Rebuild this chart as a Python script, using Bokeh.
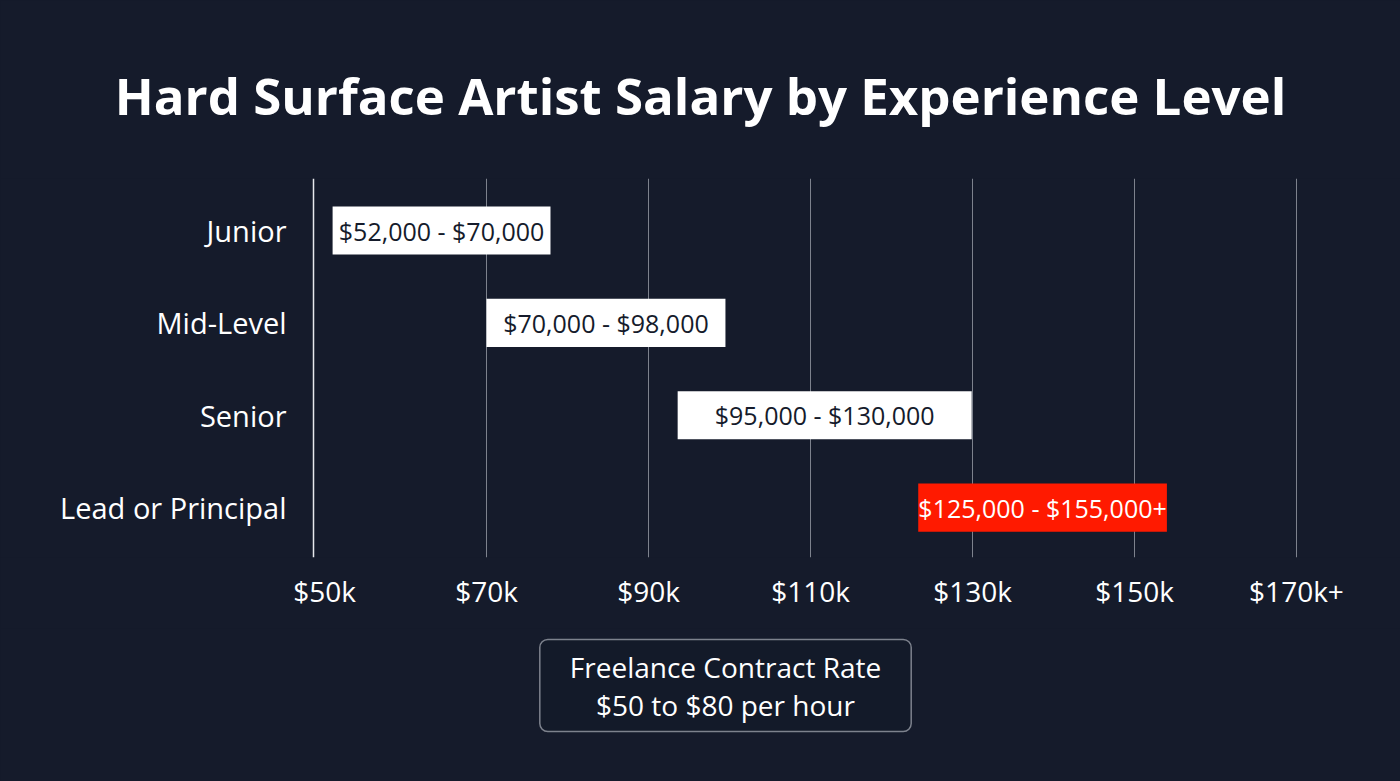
from bokeh.plotting import figure
from bokeh.layouts import column
from bokeh.models import Range1d, FixedTicker, Label, ColumnDataSource, Span
from bokeh.core.properties import value
from bokeh.embed import file_html
from bokeh.resources import INLINE

# ---- data ----
levels = ["Junior", "Mid-Level", "Senior", "Lead or Principal"]
range_labels = ["$52,000 - $70,000", "$70,000 - $98,000", "$95,000 - $130,000", "$125,000 - $155,000+"]
box_start_k = [51.0, 70.0, 93.6, 123.3]   # drawn box extents (thousands)
box_end_k = [77.9, 99.5, 129.9, 154.0]
bar_colors = ["#ffffff", "#ffffff", "#ffffff", "#ff1a00"]
label_colors = ["#151b2b", "#151b2b", "#151b2b", "#ffffff"]
tick_values = [50, 70, 90, 110, 130, 150, 170]
tick_labels = ["$50k", "$70k", "$90k", "$110k", "$130k", "$150k", "$170k+"]
title_text = "Hard Surface Artist Salary by Experience Level"
note_text = "Freelance Contract Rate\n$50 to $80 per hour"

BG = "#151b2b"
FONT = "Open Sans"
W = 1400
PX_PER_K = 8.1                      # horizontal scale (pixels per $1k)
X0 = 50 - 324 / PX_PER_K           # value at the left canvas edge
X1 = X0 + W / PX_PER_K
AXIS_K = X0 + 313 / PX_PER_K        # position of the vertical rule
LABEL_K = X0 + 286 / PX_PER_K       # right edge of the category labels


def blank(h):
    f = figure(width=W, height=h, output_backend="svg", toolbar_location=None,
               x_range=Range1d(0, W), y_range=Range1d(h, 0),
               min_border=0, background_fill_color=BG, border_fill_color=BG)
    f.outline_line_color = None
    f.axis.visible = False
    f.grid.visible = False
    return f


# ---- title strip ----
top = blank(178)
top.add_layout(Label(x=700, y=94, text=title_text, text_align="center", text_baseline="middle",
                     text_color="#ffffff", text_font=FONT, text_font_size="51px",
                     text_font_style="bold"))

# ---- main chart ----
ypos = list(range(len(levels)))
src = ColumnDataSource(dict(
    y=ypos, left=box_start_k, right=box_end_k,
    mid=[(a + b) / 2 for a, b in zip(box_start_k, box_end_k)],
    color=bar_colors, tcolor=label_colors, text=range_labels,
    lx=[LABEL_K] * len(levels), level=levels,
))

p = figure(width=W, height=450, output_backend="svg", toolbar_location=None,
           x_range=Range1d(X0, X1), y_range=Range1d(3.54, -0.563),
           min_border_left=0, min_border_right=0, min_border_top=0, min_border_bottom=71,
           background_fill_color=BG, border_fill_color=BG)
p.outline_line_color = None

p.hbar(y="y", left="left", right="right", height=0.52, fill_color="color",
       line_color=None, source=src)
p.text(x="mid", y="y", text="text", text_color="tcolor", text_align="center",
       text_baseline="middle", text_font=value(FONT), text_font_size="25px", source=src)
p.text(x="lx", y="y", text="level", text_color="#ffffff", text_align="right",
       text_baseline="middle", text_font=value(FONT), text_font_size="29px", source=src)
p.add_layout(Span(location=AXIS_K, dimension="height", line_color="#e6e8ec", line_width=1.5))

xa = p.xaxis[0]
xa.ticker = FixedTicker(ticks=tick_values)
xa.major_label_overrides = {v: l for v, l in zip(tick_values, tick_labels)}
xa.axis_line_color = None
xa.major_tick_line_color = None
xa.minor_tick_line_color = None
xa.major_label_standoff = 8
xa.major_label_text_color = "#ffffff"
xa.major_label_text_font = FONT
xa.major_label_text_font_size = "28px"

p.yaxis.visible = False
p.xgrid.ticker = FixedTicker(ticks=tick_values[1:])
p.xgrid.grid_line_color = "#7d828d"
p.xgrid.grid_line_width = 1
p.ygrid.grid_line_color = None

# ---- freelance note ----
bot = blank(153)
bot.add_layout(Label(x=725, y=57, text=note_text, text_align="center", text_baseline="middle",
                     text_color="#ffffff", text_font=FONT, text_font_size="28px",
                     text_line_height=1.0, background_fill_color="#131a29",
                     border_line_color="#7d828d", border_line_width=1.5, border_radius=8,
                     padding=dict(left=30, right=30, top=8, bottom=8)))

layout = column(top, p, bot, spacing=0, styles={"background-color": BG})
open("out.html", "w").write(file_html(layout, INLINE))
